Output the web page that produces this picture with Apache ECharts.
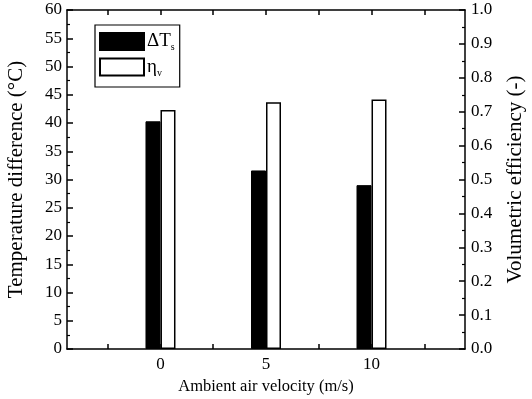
<!DOCTYPE html>
<html>
<head>
<meta charset="utf-8">
<script src="https://cdn.jsdelivr.net/npm/echarts@6/dist/echarts.min.js"></script>
<style>
  html, body { margin: 0; padding: 0; background: #fff; }
  #chart { width: 532px; height: 399px; }
</style>
</head>
<body>
<div id="chart"></div>
<script>
// Ambient air velocity (m/s) of each test case
const velocities = [0, 5, 10];
// Temperature difference (°C), left axis
const deltaT = [40.3, 31.6, 29.0];
// Volumetric efficiency (-), right axis
const etaV = [0.705, 0.728, 0.736];
// Labelled positions on the velocity axis
const velocityLabels = [0, 5, 10];
const velocityTicks = [-2.5, 0, 2.5, 5, 7.5, 10, 12.5];

const FONT = '"Liberation Serif", "DejaVu Serif", serif';
const chart = echarts.init(document.getElementById('chart'), null, { renderer: 'canvas' });

const axisLineStyle = { color: '#000', width: 1.5 };

chart.setOption({
  animation: false,
  backgroundColor: '#fff',
  textStyle: { fontFamily: FONT, color: '#000' },
  grid: { left: 67, right: 67, top: 10, bottom: 50, containLabel: false, outerBoundsMode: 'none' },
  legend: {
    left: 95, top: 25,
    orient: 'vertical',
    itemWidth: 44, itemHeight: 17, itemGap: 5,
    padding: [7, 5, 9, 4],
    borderColor: '#000', borderWidth: 1.2,
    icon: 'rect',
    selectedMode: false,
    data: ['dT', 'eta'],
    formatter: function (name) {
      return name === 'dT' ? '{m|ΔT}{s|s}' : '{m|η}{s|v}';
    },
    textStyle: {
      fontFamily: FONT, color: '#000', padding: [0, 0, 0, -2],
      rich: {
        m: { fontFamily: FONT, fontSize: 19, color: '#000' },
        s: { fontFamily: FONT, fontSize: 10, color: '#000', padding: [12, 0, 0, 0] }
      }
    }
  },
  xAxis: [{
    type: 'value',
    min: -4.43, max: 14.43,
    name: 'Ambient air velocity (m/s)',
    nameLocation: 'middle', nameGap: 29,
    nameTextStyle: { fontFamily: FONT, fontSize: 16.5, color: '#000' },
    axisLine: { show: true, onZero: false, lineStyle: axisLineStyle },
    axisTick: { show: true, inside: true, length: 5, customValues: velocityTicks, lineStyle: axisLineStyle },
    axisLabel: { customValues: velocityLabels, fontFamily: FONT, fontSize: 17, color: '#000', margin: 7 },
    splitLine: { show: false }
  }, {
    type: 'value',
    position: 'top',
    min: -4.43, max: 14.43,
    axisLine: { show: true, onZero: false, lineStyle: axisLineStyle },
    axisTick: { show: true, inside: true, length: 5, customValues: velocityTicks, lineStyle: axisLineStyle },
    axisLabel: { show: false },
    splitLine: { show: false }
  }],
  yAxis: [{
    type: 'value',
    min: 0, max: 60, interval: 5,
    name: 'Temperature difference (°C)',
    nameLocation: 'middle', nameGap: 40,
    nameTextStyle: { fontFamily: FONT, fontSize: 21, color: '#000' },
    axisLine: { show: true, onZero: false, lineStyle: axisLineStyle },
    axisTick: { show: true, inside: true, length: 6, lineStyle: axisLineStyle },
    minorTick: { show: true, splitNumber: 2, length: 3, lineStyle: { color: '#000', width: 1.2 } },
    axisLabel: { fontFamily: FONT, fontSize: 17, color: '#000', margin: 5 },
    splitLine: { show: false }
  }, {
    type: 'value',
    position: 'right',
    min: 0, max: 1, interval: 0.1,
    name: 'Volumetric efficiency (-)',
    nameLocation: 'middle', nameGap: 40,
    nameRotate: 90,
    nameTextStyle: { fontFamily: FONT, fontSize: 21, color: '#000' },
    axisLine: { show: true, onZero: false, lineStyle: axisLineStyle },
    axisTick: { show: true, inside: true, length: 6, lineStyle: axisLineStyle },
    minorTick: { show: true, splitNumber: 2, length: 3, lineStyle: { color: '#000', width: 1.2 } },
    axisLabel: { fontFamily: FONT, fontSize: 17, color: '#000', margin: 6,
      formatter: v => v.toFixed(1) },
    splitLine: { show: false }
  }],
  series: [{
    name: 'dT',
    type: 'bar',
    xAxisIndex: 0, yAxisIndex: 0,
    barWidth: 15, barGap: '0%',
    itemStyle: { color: '#000', borderColor: '#000', borderWidth: 1 },
    data: velocities.map((v, i) => [v, deltaT[i]])
  }, {
    name: 'eta',
    type: 'bar',
    xAxisIndex: 0, yAxisIndex: 1,
    barWidth: 15, barGap: '0%',
    itemStyle: { color: '#fff', borderColor: '#000', borderWidth: 1.5 },
    data: velocities.map((v, i) => [v, etaV[i]])
  }]
});
</script>
</body>
</html>
